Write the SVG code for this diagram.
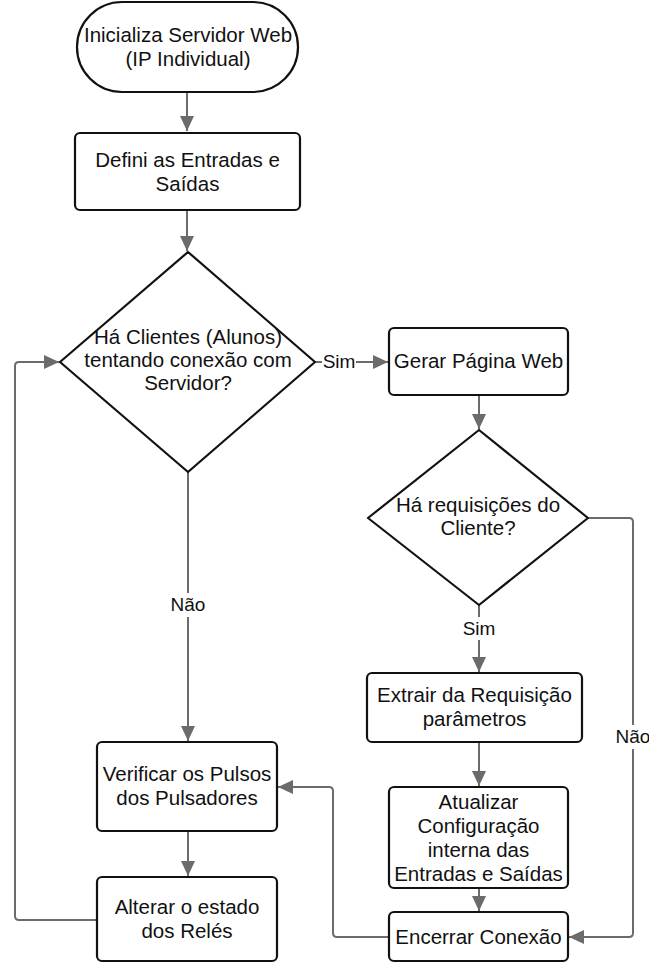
<svg xmlns="http://www.w3.org/2000/svg" width="649" height="963" viewBox="0 0 649 963">
<defs>
<style>
.n{fill:#fff;stroke:#111;stroke-width:2.2}
.t{font-family:"Liberation Sans",Arial,sans-serif;font-size:20.5px;fill:#111;text-anchor:middle}
.l{font-family:"Liberation Sans",Arial,sans-serif;font-size:19px;fill:#111;text-anchor:middle}
.c{fill:none;stroke:#6b6b6b;stroke-width:2;stroke-linejoin:round}
.bg{fill:#fff;stroke:none}
</style>
<marker id="a" markerUnits="userSpaceOnUse" markerWidth="16" markerHeight="14" refX="15" refY="7" orient="auto">
<path d="M0,0 L15,7 L0,14 Z" fill="#6b6b6b"/>
</marker>
</defs>
<rect width="649" height="963" fill="#fff"/>
<g id="connectors">
<path class="c" d="M187,92 V131" marker-end="url(#a)"/>
<path class="c" d="M187,210 V251" marker-end="url(#a)"/>
<path class="c" d="M315,362 H388" marker-end="url(#a)"/>
<path class="c" d="M479,395 V429" marker-end="url(#a)"/>
<path class="c" d="M479,605 V672" marker-end="url(#a)"/>
<path class="c" d="M588,518 H629 Q633,518 633,522 V933 Q633,937 629,937 H569" marker-end="url(#a)"/>
<path class="c" d="M479,742 V786" marker-end="url(#a)"/>
<path class="c" d="M479,888 V911" marker-end="url(#a)"/>
<path class="c" d="M389,937 H337 Q333,937 333,933 V791 Q333,787 329,787 H278" marker-end="url(#a)"/>
<path class="c" d="M188,472 V741" marker-end="url(#a)"/>
<path class="c" d="M188,831 V876" marker-end="url(#a)"/>
<path class="c" d="M97,920 H19 Q15,920 15,916 V366 Q15,362 19,362 H59" marker-end="url(#a)"/>
<rect class="bg" x="322" y="350" width="34" height="24"/>
<text class="l" x="339" y="368">Sim</text>
<rect class="bg" x="461" y="617" width="36" height="23"/>
<text class="l" x="479" y="635">Sim</text>
<rect class="bg" x="168" y="593" width="40" height="24"/>
<text class="l" x="188" y="611">Não</text>
<rect class="bg" x="613" y="725" width="40" height="24"/>
<text class="l" x="633" y="743">Não</text>
</g>
<g id="start">
<rect class="n" x="77" y="2" width="221" height="90" rx="45" ry="45"/>
<text class="t" x="188" y="42">Inicializa Servidor Web</text>
<text class="t" x="188" y="66">(IP Individual)</text>
</g>
<g id="defini">
<rect class="n" x="75" y="133" width="225" height="77" rx="5"/>
<text class="t" x="187.5" y="167">Defini as Entradas e</text>
<text class="t" x="187.5" y="191">Saídas</text>
</g>
<g id="decisao1">
<path class="n" d="M188,252 L315,362 L188,472 L60,362 Z" stroke-linejoin="round"/>
<text class="t" x="188" y="344">Há Clientes (Alunos)</text>
<text class="t" x="188" y="367">tentando conexão com</text>
<text class="t" x="188" y="390">Servidor?</text>
</g>
<g id="gerar">
<rect class="n" x="389" y="328" width="179" height="67" rx="5"/>
<text class="t" x="478.5" y="368">Gerar Página Web</text>
</g>
<g id="decisao2">
<path class="n" d="M479,430 L588,518 L479,605 L368,518 Z" stroke-linejoin="round"/>
<text class="t" x="478" y="512">Há requisições do</text>
<text class="t" x="478" y="535">Cliente?</text>
</g>
<g id="extrair">
<rect class="n" x="367" y="673" width="215" height="69" rx="5"/>
<text class="t" x="474.5" y="702">Extrair da Requisição</text>
<text class="t" x="474.5" y="726">parâmetros</text>
</g>
<g id="atualizar">
<rect class="n" x="389" y="787" width="179" height="101" rx="5"/>
<text class="t" x="478.5" y="809">Atualizar</text>
<text class="t" x="478.5" y="833">Configuração</text>
<text class="t" x="478.5" y="857">interna das</text>
<text class="t" x="478.5" y="881">Entradas e Saídas</text>
</g>
<g id="encerrar">
<rect class="n" x="389" y="912" width="179" height="49" rx="5"/>
<text class="t" x="478.5" y="944">Encerrar Conexão</text>
</g>
<g id="verificar">
<rect class="n" x="97" y="742" width="180" height="89" rx="5"/>
<text class="t" x="187" y="781">Verificar os Pulsos</text>
<text class="t" x="187" y="805">dos Pulsadores</text>
</g>
<g id="alterar">
<rect class="n" x="97" y="877" width="180" height="84" rx="5"/>
<text class="t" x="187" y="914">Alterar o estado</text>
<text class="t" x="187" y="938">dos Relés</text>
</g>
</svg>
